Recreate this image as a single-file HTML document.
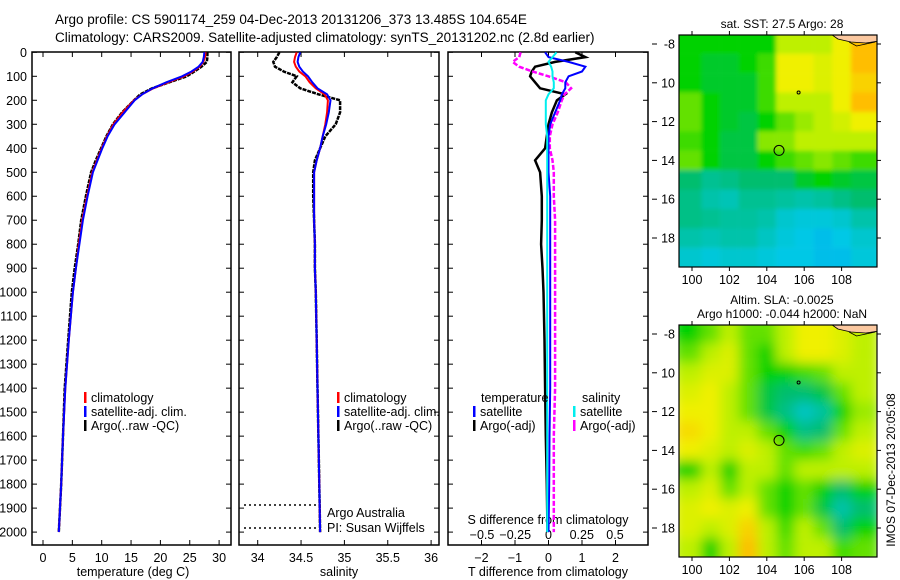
<!DOCTYPE html>
<html><head><meta charset="utf-8"><style>
body{margin:0;background:#fff;}
svg{display:block;font-family:"Liberation Sans",sans-serif;}
text{font-size:12.5px;fill:#000;}
</style></head><body>
<svg id="fig" width="900" height="580" viewBox="0 0 900 580" xmlns="http://www.w3.org/2000/svg">
<rect width="900" height="580" fill="#fff"/>
<text x="55" y="24" style="font-size:13.5px">Argo profile: CS 5901174_259 04-Dec-2013 20131206_373 13.485S 104.654E</text>
<text x="55" y="42" style="font-size:13.5px">Climatology: CARS2009. Satellite-adjusted climatology: synTS_20131202.nc (2.8d earlier)</text>
<g id="g"></g>
</svg>
<script>
const depths=[0,20,40,60,80,100,125,150,175,200,250,300,350,400,450,500,600,700,800,900,1000,1200,1400,1600,1800,2000];
const tempArgo=[28.0,28.0,27.9,27.0,25.8,24.5,21.5,18.6,16.6,15.5,13.5,11.9,10.8,9.9,9.0,8.2,7.3,6.5,6.0,5.4,4.9,4.3,3.7,3.4,3.1,2.7];
const tempClim=[27.7,27.6,27.3,26.7,25.5,24.0,21.3,18.8,16.9,15.5,13.6,12.0,10.9,10.0,9.2,8.4,7.5,6.7,6.1,5.6,5.1,4.4,3.8,3.4,3.1,2.7];
const tempSat=[27.5,27.4,27.2,26.5,25.3,23.7,21.0,18.7,16.9,15.6,13.9,12.2,11.0,10.1,9.3,8.5,7.6,6.8,6.2,5.6,5.1,4.4,3.8,3.4,3.1,2.7];
const salArgo=[34.25,34.22,34.18,34.20,34.30,34.45,34.40,34.49,34.70,34.95,34.95,34.90,34.78,34.72,34.66,34.64,34.64,34.65,34.66,34.66,34.67,34.68,34.69,34.70,34.71,34.72];
const salClim=[34.45,34.43,34.42,34.44,34.48,34.55,34.60,34.67,34.77,34.81,34.80,34.78,34.75,34.72,34.68,34.65,34.65,34.65,34.66,34.66,34.67,34.68,34.69,34.70,34.71,34.72];
const salSat=[34.49,34.47,34.46,34.48,34.52,34.58,34.63,34.69,34.80,34.84,34.82,34.79,34.75,34.72,34.68,34.65,34.65,34.65,34.66,34.66,34.67,34.68,34.69,34.70,34.71,34.72];
const tDiffSat=[-0.1,0.0,0.6,1.1,1.0,0.6,0.5,0.5,0.4,0.35,0.2,0.05,0.0,0.0,0.0,0.0,0.05,0.05,0.05,0.05,0.05,0.05,0.05,0.03,0.02,0.0];
const tDiffArgo=[0.8,1.1,0.2,-0.4,-0.5,-0.55,-0.4,-0.25,0.5,0.25,0.1,0.0,-0.05,-0.1,-0.4,-0.25,-0.2,-0.2,-0.22,-0.18,-0.15,-0.12,-0.1,-0.08,-0.05,-0.03];
const sDiffSat=[0.06,0.03,0.0,0.02,0.03,0.03,0.04,0.04,0.0,-0.02,-0.02,-0.02,-0.01,-0.01,-0.01,-0.01,-0.01,-0.01,-0.01,-0.01,-0.01,-0.01,-0.01,-0.01,-0.01,-0.01];
const sDiffArgo=[-0.21,-0.22,-0.27,-0.22,-0.12,0.0,0.13,0.17,0.12,0.1,0.07,0.03,0.01,0.01,0.03,0.04,0.04,0.05,0.05,0.05,0.05,0.05,0.05,0.04,0.04,0.04];
const depthTicks=[0,100,200,300,400,500,600,700,800,900,1000,1100,1200,1300,1400,1500,1600,1700,1800,1900,2000];
const tempTicks=[0,5,10,15,20,25,30];
const salTicks=[34,34.5,35,35.5,36];
const tdTicks=[-2,-1,0,1,2];
const sdTicks=[-0.5,-0.25,0,0.25,0.5];
const lonTicks=[100,102,104,106,108];
const latTicks=[-8,-10,-12,-14,-16,-18];
const lats=[-8,-9,-10,-11,-12,-13,-14,-15,-16,-17,-18,-19];
const lons=[100,101,102,103,104,105,106,107,108,109];
const sstGrid=[
[2.5,2.5,2.5,2.5,2.5,3.5,3.5,3.5,4,4.5],
[2.5,2.3,2.3,2.5,2.8,4,4,3.8,4,4.5],
[2.5,2.3,2.3,2.3,2.8,4,4,3.8,4,4.3],
[3,2.5,2.3,2.3,2.8,3.5,3.5,3.5,4,4.5],
[3,2.5,2.3,2.2,2.5,3,3.3,3.5,3.7,4],
[2.8,2.5,2.2,2.2,3.2,3.2,3.5,3.5,3.5,3.5],
[3,2.5,2.2,2.2,2.5,2.8,3,3.2,3,2.8],
[2,1.7,1.8,2,2,2,2.3,2.5,2.3,2.2],
[1.8,1.5,1.4,1.7,1.7,1.6,1.5,1.6,1.8,2],
[1.8,1.7,1.6,1.6,1.5,1.2,1.1,1.1,1.2,1.5],
[1.5,1.4,1.5,1.5,1.3,1.1,1.0,0.9,1.0,1.2],
[1.2,1.1,1.2,1.2,1.1,1.0,1.0,0.9,0.9,1.1]];
const slaGrid=[
[2.5,3,3.5,3,3,3.5,4,4,3.8,3.5],
[3,3.5,3.8,3,2.5,3.5,4,4,3.8,3.5],
[3.5,3.8,3.8,3,2.5,2.5,2.8,3,3.5,3.5],
[3.8,4,3.5,3,2.2,2,2,2.2,3,3.5],
[4,4,3.5,3,2.2,1.8,1.3,1.6,2.5,3.3],
[4.2,4,3.5,3.5,3,2.5,1.8,2,3,3.5],
[4,3.8,3.5,3.8,3.5,3,2.8,3,3.5,3.8],
[2.5,3.5,2.5,3.5,3.5,3,3.5,3.5,3.5,3.5],
[3.5,3.8,3,3.5,3,2.5,3,2.5,2,2.5],
[3.8,4,3.8,4,3,2.5,3,2.2,1.5,2],
[3.8,3.5,3.8,4.3,3.5,2.8,3.5,3,2,2.5],
[3.5,2.5,3.5,4.5,3.5,3,3.5,3.5,2.8,3]];

const NS='http://www.w3.org/2000/svg';
const G=document.getElementById('g');
function mk(tag,at,par){const e=document.createElementNS(NS,tag);for(const k in at)e.setAttribute(k,at[k]);(par||G).appendChild(e);return e;}
function txt(s,x,y,anchor,par){const t=mk('text',{x:x,y:y,'text-anchor':anchor||'start'},par);t.textContent=s;return t;}
const Y=d=>52.3+d*0.2399;
const TOP=52,BOT=545;
const pT={l:32,r:231,x:v=>43+v*5.87};
const pS={l:239,r:439,x:v=>257.7+(v-34)*86.7};
const pD={l:448,r:648,x:v=>548.5+v*33.5};
const sdX=v=>548.5+v*133;

function frame(p,name){
  const r=mk('rect',{x:p.l,y:TOP,width:p.r-p.l,height:BOT-TOP,fill:'none',stroke:'#000','stroke-width':1.5});
  
  
  depthTicks.forEach(d=>{mk('line',{x1:p.l,x2:p.l+5,y1:Y(d),y2:Y(d),stroke:'#000'});mk('line',{x1:p.r-5,x2:p.r,y1:Y(d),y2:Y(d),stroke:'#000'});});
}
function line(xf,vals,color,w,name,dash){
  const pts=vals.map((v,i)=>xf(v).toFixed(1)+','+Y(depths[i]).toFixed(1)).join(' ');
  const pl=mk('polyline',{points:pts,fill:'none',stroke:color,'stroke-width':w});
  if(dash)pl.setAttribute('stroke-dasharray',dash);
  
  
}
function legend(x,y,color,label,name){
  mk('rect',{x:x,y:y-10,width:2.5,height:11,fill:color});
  const t=txt(label,x+7,y);
  
  
}
// panel 1
frame(pT,'temperature-panel');
depthTicks.forEach(d=>{const t=txt(String(d),27,Y(d)+4.5,'end');});
tempTicks.forEach(v=>{const x=pT.x(v);mk('line',{x1:x,x2:x,y1:TOP,y2:TOP+5,stroke:'#000'});mk('line',{x1:x,x2:x,y1:BOT-5,y2:BOT,stroke:'#000'});const t=txt(String(v),x,562,'middle');});
let a=txt('temperature (deg C)',133,576,'middle');
line(pT.x,tempArgo,'#000',2.5,'temp-argo-line','4 1');
line(pT.x,tempClim,'#f00',2,'temp-climatology-line');
line(pT.x,tempSat,'#00f',2,'temp-satellite-line');
legend(84,402,'#f00','climatology','legend-climatology');
legend(84,416,'#00f','satellite-adj. clim.','legend-satellite');
legend(84,430,'#000','Argo(..raw -QC)','legend-argo');
// panel 2
frame(pS,'salinity-panel');
salTicks.forEach(v=>{const x=pS.x(v);mk('line',{x1:x,x2:x,y1:TOP,y2:TOP+5,stroke:'#000'});mk('line',{x1:x,x2:x,y1:BOT-5,y2:BOT,stroke:'#000'});const t=txt(String(v),x,562,'middle');});
a=txt('salinity',339,576,'middle');
line(pS.x,salArgo,'#000',2.5,'sal-argo-line','4 1');
line(pS.x,salClim,'#f00',2,'sal-climatology-line');
line(pS.x,salSat,'#00f',2,'sal-satellite-line');
legend(337,402,'#f00','climatology','legend-climatology-sal');
legend(337,416,'#00f','satellite-adj. clim.','legend-satellite-sal');
legend(337,430,'#000','Argo(..raw -QC)','legend-argo-sal');
mk('line',{x1:244,x2:318,y1:505,y2:505,stroke:'#000','stroke-dasharray':'2 3','stroke-width':1.5});
mk('line',{x1:244,x2:318,y1:528,y2:528,stroke:'#000','stroke-dasharray':'2 3','stroke-width':1.5});
a=txt('Argo Australia',327,517);
a=txt('PI: Susan Wijffels',327,532);
// panel 3
frame(pD,'difference-panel');
tdTicks.forEach(v=>{const x=pD.x(v);mk('line',{x1:x,x2:x,y1:TOP,y2:TOP+5,stroke:'#000'});mk('line',{x1:x,x2:x,y1:BOT-5,y2:BOT,stroke:'#000'});const t=txt(v<0?'\u2212'+(-v):String(v),x,562,'middle');});
sdTicks.forEach(v=>{const t=txt(v<0?'\u2212'+(-v):String(v),sdX(v),539,'middle');});
a=txt('S difference from climatology',548,524,'middle');
a=txt('T difference from climatology',548,576,'middle');
line(pD.x,tDiffArgo,'#000',2.5,'tdiff-argo-line');
line(sdX,sDiffArgo,'#f0f',2.5,'sdiff-argo-line','5 2');
line(pD.x,tDiffSat,'#00f',2,'tdiff-satellite-line');
line(sdX,sDiffSat,'#0ee',2,'sdiff-satellite-line');
a=txt('temperature',481,402);
a=txt('salinity',582,402);
legend(473,416,'#00f','satellite','legend-t-satellite');
legend(473,430,'#000','Argo(-adj)','legend-t-argo');
legend(573,416,'#0ee','satellite','legend-s-satellite');
legend(573,430,'#f0f','Argo(-adj)','legend-s-argo');

// maps
const stops=[[0,[0,100,255]],[1,[0,200,230]],[2,[0,190,110]],[2.5,[0,210,0]],[3,[100,225,0]],[3.5,[190,240,0]],[4,[240,240,0]],[4.5,[255,190,0]],[5,[255,140,0]]];
function cmap(v){for(let i=1;i<stops.length;i++){if(v<=stops[i][0]){const[a0,c0]=stops[i-1],[a1,c1]=stops[i];const f=(v-a0)/(a1-a0);return 'rgb('+c0.map((c,k)=>Math.round(c+(c1[k]-c)*f)).join(',')+')';}}return 'rgb(255,140,0)';}
let defs=mk('defs',{});
const fl=mk('filter',{id:'bl',x:'-10%',y:'-10%',width:'120%',height:'120%'},defs);
mk('feGaussianBlur',{stdDeviation:6},fl);
const fl2=mk('filter',{id:'bl2'},defs);
mk('feGaussianBlur',{stdDeviation:2},fl2);
function map(top,grid,name,title,blur){
  const L=679,R=877,B=top+232;
  const lx=v=>692+(v-100)*18.7, ly=v=>top+9+(-8-v)*19.4;
  const cp=mk('clipPath',{id:'c'+top},defs);mk('rect',{x:L,y:top,width:R-L,height:B-top},cp);
  const g=mk('g',{'clip-path':'url(#c'+top+')'});
  
  
  const gi=mk('g',{filter:blur?'url(#bl)':'url(#bl2)'},g);
  grid.forEach((row,i)=>row.forEach((v,j)=>{
    const c=mk('rect',{x:lx(lons[j]-0.5)-10*(j==0),y:ly(lats[i]+0.5)-10*(i==0),width:18.9+10*(j==0)+10*(j==9),height:19.6+10*(i==0)+10*(i==11),fill:cmap(v)},gi);
    
    
  }));
  mk('path',{d:`M${lx(107.5)},${top} L${lx(107.8)},${top+4} L${lx(108.5)},${top+7} L${lx(109.3)},${top+8} L${lx(110)},${top+6} L${R},${top} Z`,fill:'#fbc8a0',stroke:'#000','stroke-width':0.8},g);
  mk('path',{d:`M${lx(108.4)},${top+7} L${lx(108.8)},${top+11} L${lx(109.3)},${top+9} L${lx(109.8)},${top+7}`,fill:'none',stroke:'#000','stroke-width':0.8},g);
  const m=mk('circle',{cx:lx(104.654),cy:ly(-13.485),r:5,fill:'none',stroke:'#000','stroke-width':1});
  
  
  mk('circle',{cx:lx(105.7),cy:ly(-10.5),r:1.5,fill:'none',stroke:'#000','stroke-width':1});
  mk('rect',{x:L,y:top,width:R-L,height:B-top,fill:'none',stroke:'#000','stroke-width':1.2});
  lonTicks.forEach(v=>{mk('line',{x1:lx(v),x2:lx(v),y1:top,y2:top-4,stroke:'#000'});mk('line',{x1:lx(v),x2:lx(v),y1:B,y2:B+4,stroke:'#000'});const t=txt(String(v),lx(v),B+17,'middle');});
  latTicks.forEach(v=>{mk('line',{x1:R,x2:R+4,y1:ly(v),y2:ly(v),stroke:'#000'});mk('line',{x1:652,x2:657,y1:ly(v),y2:ly(v),stroke:'#000'});const t=txt(v==-8?'-8':String(-v),675,ly(v)+4.5,'end');});
  title.forEach((s,i)=>{const t=txt(s,782,top-(title.length-i-1)*14-7,'middle');t.setAttribute('style','font-size:12px');});
}
map(35,sstGrid,'sst-map',['sat. SST: 27.5 Argo: 28'],false);
map(325,slaGrid,'sla-map',['Altim. SLA: -0.0025','Argo h1000: -0.044 h2000: NaN'],true);
a=txt('IMOS 07-Dec-2013 20:05:08',0,0,'middle');
a.setAttribute('transform','translate(895,470) rotate(-90)');
a.setAttribute('style','font-size:12px');


</script>
</body></html>
